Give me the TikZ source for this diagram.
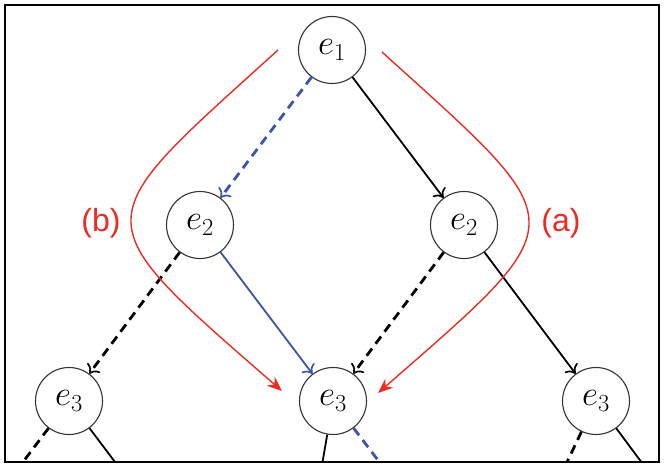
\RequirePackage{fix-cm}
\documentclass[tikz,border=0pt]{standalone}
\usepackage{fontspec}
\newfontfamily\labelfont{Liberation Sans}
\usetikzlibrary{arrows.meta}
\definecolor{myblue}{RGB}{62,84,168}
\definecolor{myred}{RGB}{236,44,36}
\begin{document}
\begin{tikzpicture}[x=1pt,y=-1pt,
  state/.style={circle, draw=black!80, line width=1.1pt, minimum size=67pt, inner sep=0pt,
    font=\fontsize{35}{42}\selectfont, fill=white},
  tip/.style={-{To[length=8pt,width=16pt,line width=1.7pt]}},
  solidedge/.style={line width=1.8pt, black},
  dashedge/.style={line width=2.8pt, black, dash pattern=on 9pt off 6pt},
  blueedge/.style={line width=1.8pt, myblue},
  bluedash/.style={line width=2.8pt, myblue, dash pattern=on 9pt off 6pt},
  redcurve/.style={line width=1.4pt, myred, -{Stealth[length=15pt,width=12pt,inset=5pt]}},
  lbl/.style={text=myred, font=\labelfont\fontsize{32}{38}\selectfont, anchor=base, inner sep=0pt}
]
\useasboundingbox (0,0) rectangle (666,468);
\fill[white] (0,0) rectangle (666,468);
% nodes
\node[state] (e1)  at (332,50)  {$e_1$};
\node[state] (e2a) at (200,225) {$e_2$};
\node[state] (e2b) at (464,225) {$e_2$};
\node[state] (e3a) at (69,401)  {$e_3$};
\node[state] (e3b) at (333,401) {$e_3$};
\node[state] (e3c) at (596,401) {$e_3$};
% continuing edges (clipped by the frame)
\coordinate (f1) at (-63,576);
\coordinate (f2) at (201,576);
\coordinate (f3) at (303,576);
\coordinate (f4) at (466,576);
\coordinate (f5) at (513,576);
\coordinate (f6) at (726,576);
\begin{scope}
\clip (5,5) rectangle (659,462);
\draw[dashedge] (e3a) -- (f1);
\draw[solidedge] (e3a) -- (f2);
\draw[solidedge] (e3b) -- (f3);
\draw[bluedash] (e3b) -- (f4);
\draw[dashedge] (e3c) -- (f5);
\draw[solidedge] (e3c) -- (f6);
\end{scope}
% tree edges
\draw[bluedash, tip] (e1) -- (e2a);
\draw[solidedge, tip] (e1) -- (e2b);
\draw[dashedge, tip] (e2a) -- (e3a);
\draw[blueedge, tip] (e2a) -- (e3b);
\draw[dashedge, tip] (e2b) -- (e3b);
\draw[solidedge, tip] (e2b) -- (e3c);
% red annotations
\coordinate (bs) at (278,50);
\coordinate (be) at (282,391);
\coordinate (as) at (382,52);
\coordinate (ae) at (378,393);
\draw[redcurve] (bs) .. controls (85,225) and (80,215) .. (be);
\draw[redcurve] (as) .. controls (575,227) and (580,217) .. (ae);
\node[lbl] (lb) at (101,231) {(b)};
\node[lbl] (la) at (561,231) {(a)};
% frame
\draw[line width=2.8pt] (5,5) rectangle (659,462);
\end{tikzpicture}
\end{document}
